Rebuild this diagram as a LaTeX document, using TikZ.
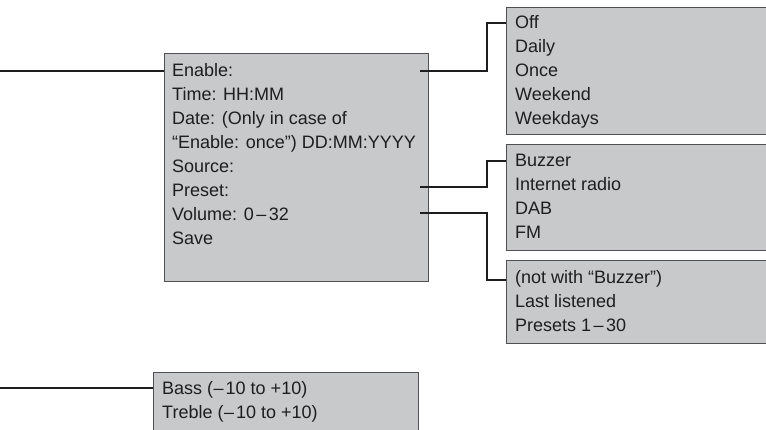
\documentclass[tikz,border=0pt]{standalone}
\usepackage{fontspec}
\setmainfont{Liberation Sans}
\usetikzlibrary{positioning}
\definecolor{boxfill}{RGB}{200,201,203}
\definecolor{boxline}{RGB}{80,80,82}
\definecolor{inkgray}{RGB}{30,30,32}
\newcommand{\rangedash}{\kern2.5pt–\kern2.5pt}
\newcommand{\negdash}{\kern0.5pt–\kern2pt}

\begin{document}
\begin{tikzpicture}[x=1pt, y=-1pt,
    menubox/.style={draw=boxline, fill=boxfill, line width=1pt, anchor=north west, inner sep=0pt},
    entry/.style={anchor=base west, inner sep=0pt, text=inkgray, font=\fontsize{18}{24}\selectfont},
    link/.style={draw=inkgray, line width=1.6pt}]
    \useasboundingbox (0,0) rectangle (766,430);
    \clip (0,0) rectangle (766,430);

    % --- Boxes ---
    \node[menubox, minimum width=264pt, minimum height=228pt] (alarm) at (164,53) {};
    \node[menubox, minimum width=264pt, minimum height=127pt] (modes) at (506,7) {};
    \node[menubox, minimum width=264pt, minimum height=106pt] (sources) at (506,144) {};
    \node[menubox, minimum width=264pt, minimum height=83pt] (presets) at (506,260) {};
    \node[menubox, minimum width=265pt, minimum height=70pt] (tone) at (153,372) {};

    % --- Alarm settings ---
    \foreach \txt [count=\i] in {Enable:, Time: HH:MM, Date: (Only in case of,
        “Enable: once”) DD:MM:YYYY, Source:, Preset:, Volume: 0\rangedash32, Save}
        \node[entry] (row\i) at (172,{53+24*\i}) {\txt};

    % --- Choices ---
    \foreach \txt [count=\i] in {Off, Daily, Once, Weekend, Weekdays}
        \node[entry] (mode\i) at (515,{5+24*\i}) {\txt};
    \foreach \txt [count=\i] in {Buzzer, Internet radio, DAB, FM}
        \node[entry] (source\i) at (515,{143+24*\i}) {\txt};
    \foreach \txt [count=\i] in {(not with “Buzzer”), Last listened, Presets 1\rangedash30}
        \node[entry] (preset\i) at (515,{260+24*\i}) {\txt};
    \foreach \txt [count=\i] in {Bass (\negdash10 to +10), Treble (\negdash10 to +10)}
        \node[entry] (tone\i) at (162,{370+24*\i}) {\txt};

    % --- Connectors ---
    \coordinate (alarmin) at (0,71);
    \coordinate (tonein) at (0,388);
    \coordinate (enableout) at (420,71);
    \coordinate (presetout) at (420,187);
    \coordinate (volumeout) at (420,213);
    \coordinate (modesin) at (506,23);
    \coordinate (sourcesin) at (506,161);
    \coordinate (presetsin) at (506,280);

    \draw[link] (alarmin) -- (alarm.west |- alarmin);
    \draw[link] (tonein) -- (tone.west |- tonein);
    \draw[link] (enableout) -- (487,71) |- (modesin);
    \draw[link] (presetout) -- (487,187) |- (sourcesin);
    \draw[link] (volumeout) -- (487,213) |- (presetsin);
\end{tikzpicture}
\end{document}
